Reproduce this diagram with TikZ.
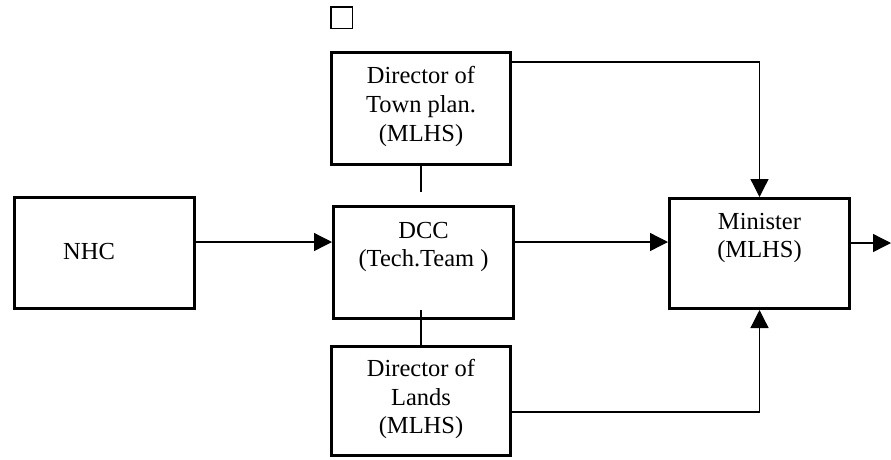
\documentclass[tikz,border=0pt]{standalone}
\usepackage{fontspec}
\setmainfont{Liberation Serif}
\usetikzlibrary{arrows.meta}
\tikzset{
  box/.style={draw, line width=3pt, inner sep=0pt},
  txt/.style={align=center, inner sep=0pt, font=\fontsize{24.5}{28.7}\selectfont},
  conn/.style={line width=1.3pt},
  arr/.style={conn, -{Triangle[length=18pt,width=18pt]}}
}
\begin{document}
\begin{tikzpicture}[x=1pt,y=-1pt]
\useasboundingbox (0,0) rectangle (891,459);
% boxes
\node[box, minimum width=180pt, minimum height=111pt] (nhc) at (104.5,253) {};
\node[box, minimum width=179pt, minimum height=112pt] (town) at (421,108.5) {};
\node[box, minimum width=180pt, minimum height=112pt] (dcc) at (423.5,262.5) {};
\node[box, minimum width=179pt, minimum height=109pt] (lands) at (421,401) {};
\node[box, minimum width=180pt, minimum height=110pt] (minister) at (759.5,253.5) {};
\node[draw, line width=1.5pt, minimum size=21.5pt, inner sep=0pt] (sq) at (341.5,17.5) {};
% texts
\node[txt] (tnhc) at (89,252) {NHC};
\node[txt] (ttown) at (421,106.5) {Director of\\Town plan.\\(MLHS)};
\node[txt] (tdcc) at (423.5,247) {DCC\\(Tech.Team )};
\node[txt] (tlands) at (421,399) {Director of\\Lands\\(MLHS)};
\node[txt] (tmin) at (759.5,238) {Minister\\(MLHS)};
% helper coordinates
\coordinate (y242) at (0,242);
\coordinate (y243) at (0,243);
\coordinate (y62) at (0,62);
\coordinate (y412) at (0,412);
\coordinate (g1) at (421,192);
\coordinate (g2) at (421,310);
\coordinate (out) at (891,243);
% connectors
\draw[arr] (y242 -| nhc.east) -- (y242 -| dcc.west);
\draw[arr] ([xshift=-3pt]y242 -| dcc.east) -- (y242 -| minister.west);
\draw[arr] (y243 -| minister.east) -- (out);
\draw[arr] (y62 -| town.east) -| (minister.north);
\draw[arr] (y412 -| lands.east) -| (minister.south);
\draw[conn] (town.south) -- (g1);
\draw[conn] (g2) -- (lands.north);
\end{tikzpicture}
\end{document}
